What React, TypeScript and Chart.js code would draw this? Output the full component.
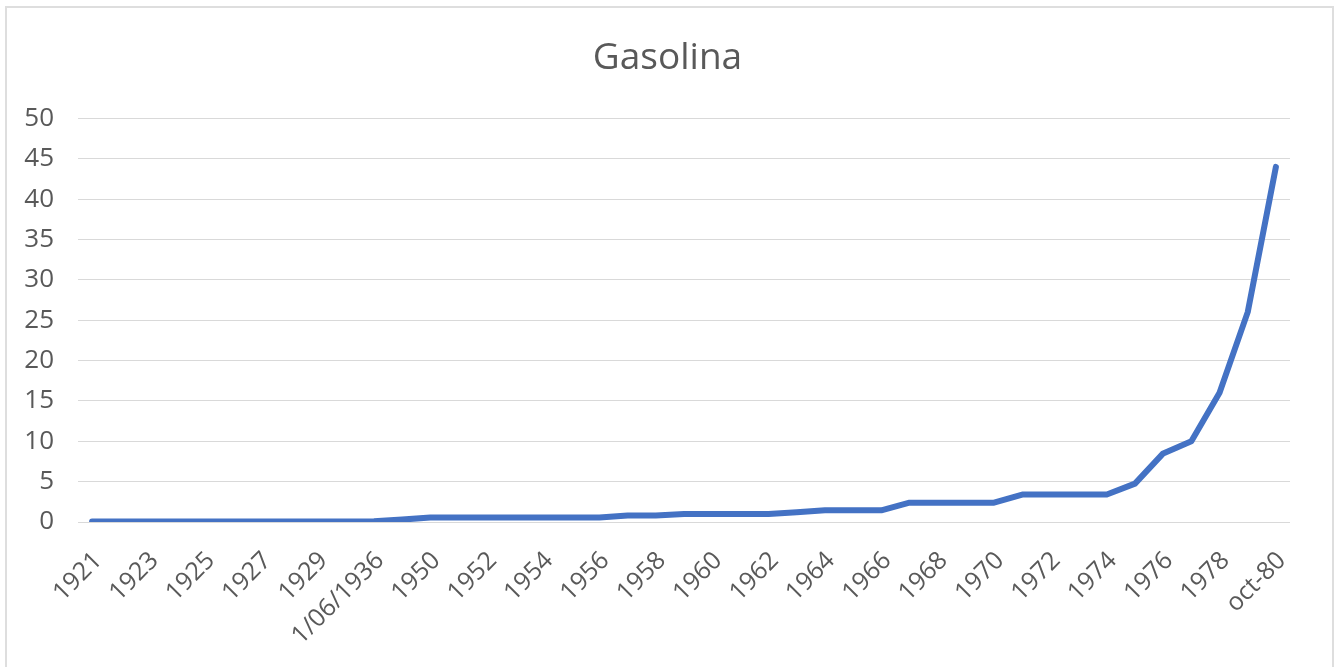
import React, { useEffect, useRef } from "react";
import { Chart, registerables } from "chart.js";

Chart.register(...registerables);

const categories: string[] = [
  "1921", "1922", "1923", "1924", "1925", "1926", "1927", "1928", "1929", "1930",
  "1/06/1936", "1949",
  "1950", "1951", "1952", "1953", "1954", "1955", "1956", "1957", "1958", "1959",
  "1960", "1961", "1962", "1963", "1964", "1965", "1966", "1967", "1968", "1969",
  "1970", "1971", "1972", "1973", "1974", "1975", "1976", "1977", "1978", "1979",
  "oct-80",
];

const gasolina: number[] = [
  0.05, 0.05, 0.05, 0.05, 0.05, 0.05, 0.05, 0.05, 0.05, 0.05,
  0.1, 0.3,
  0.55, 0.55, 0.55, 0.55, 0.55, 0.55, 0.55, 0.8, 0.8, 1.0,
  1.0, 1.0, 1.0, 1.2, 1.45, 1.45, 1.45, 2.4, 2.4, 2.4,
  2.4, 3.4, 3.4, 3.4, 3.4, 4.75, 8.5, 10.0, 16.0, 26.0,
  44.0,
];

const chartTitle = "Gasolina";
const FONT = "'Open Sans', 'Liberation Sans', sans-serif";
const TEXT = "#595959";

export default function App() {
  const ref = useRef<HTMLCanvasElement | null>(null);

  useEffect(() => {
    if (!ref.current) return;
    const chart = new Chart(ref.current, {
      type: "line",
      data: {
        labels: categories,
        datasets: [
          {
            label: chartTitle,
            data: gasolina,
            borderColor: "#4472C4",
            backgroundColor: "#4472C4",
            borderWidth: 6,
            borderJoinStyle: "round",
            borderCapStyle: "round",
            pointRadius: 0,
            tension: 0,
          },
        ],
      },
      options: {
        responsive: false,
        animation: false,
        layout: { padding: { left: 0, right: 0, top: 0, bottom: 0 } },
        plugins: {
          legend: { display: false },
          tooltip: { enabled: false },
          title: {
            display: true,
            text: chartTitle,
            color: TEXT,
            font: { family: FONT, size: 37, weight: "normal", lineHeight: 1.2 },
            padding: { top: 36, bottom: 38 },
          },
        },
        scales: {
          x: {
            offset: true,
            grid: { display: false },
            border: { display: false },
            afterFit: (s: any) => {
              s.height = 145;
            },
            ticks: {
              autoSkip: false,
              maxRotation: 45,
              minRotation: 45,
              padding: 16,
              labelOffset: 6,
              color: TEXT,
              font: { family: FONT, size: 25 },
              callback: (_v: any, i: number) => (i % 2 === 0 ? categories[i] : ""),
            },
          },
          y: {
            min: 0,
            max: 50,
            grid: { color: "#d9d9d9", lineWidth: 1, drawTicks: false },
            border: { display: false },
            afterFit: (s: any) => {
              s.width = 78;
            },
            ticks: {
              stepSize: 5,
              padding: 24,
              color: TEXT,
              font: { family: FONT, size: 26 },
            },
          },
          spacer: {
            type: "linear",
            position: "right",
            display: true,
            grid: { display: false },
            border: { display: false },
            ticks: { display: false },
            afterFit: (s: any) => {
              s.width = 45;
            },
          },
        },
      },
    });
    return () => chart.destroy();
  }, []);

  return (
    <div>
      <div
        style={{
          position: "fixed",
          left: 5,
          top: 6,
          width: 1329,
          height: 700,
          boxSizing: "border-box",
          border: "2px solid #dedede",
          background: "#fff",
        }}
      />
      <canvas
        ref={ref}
        width={1335}
        height={667}
        style={{ position: "fixed", left: 0, top: 0, width: 1335, height: 667 }}
      />
    </div>
  );
}
